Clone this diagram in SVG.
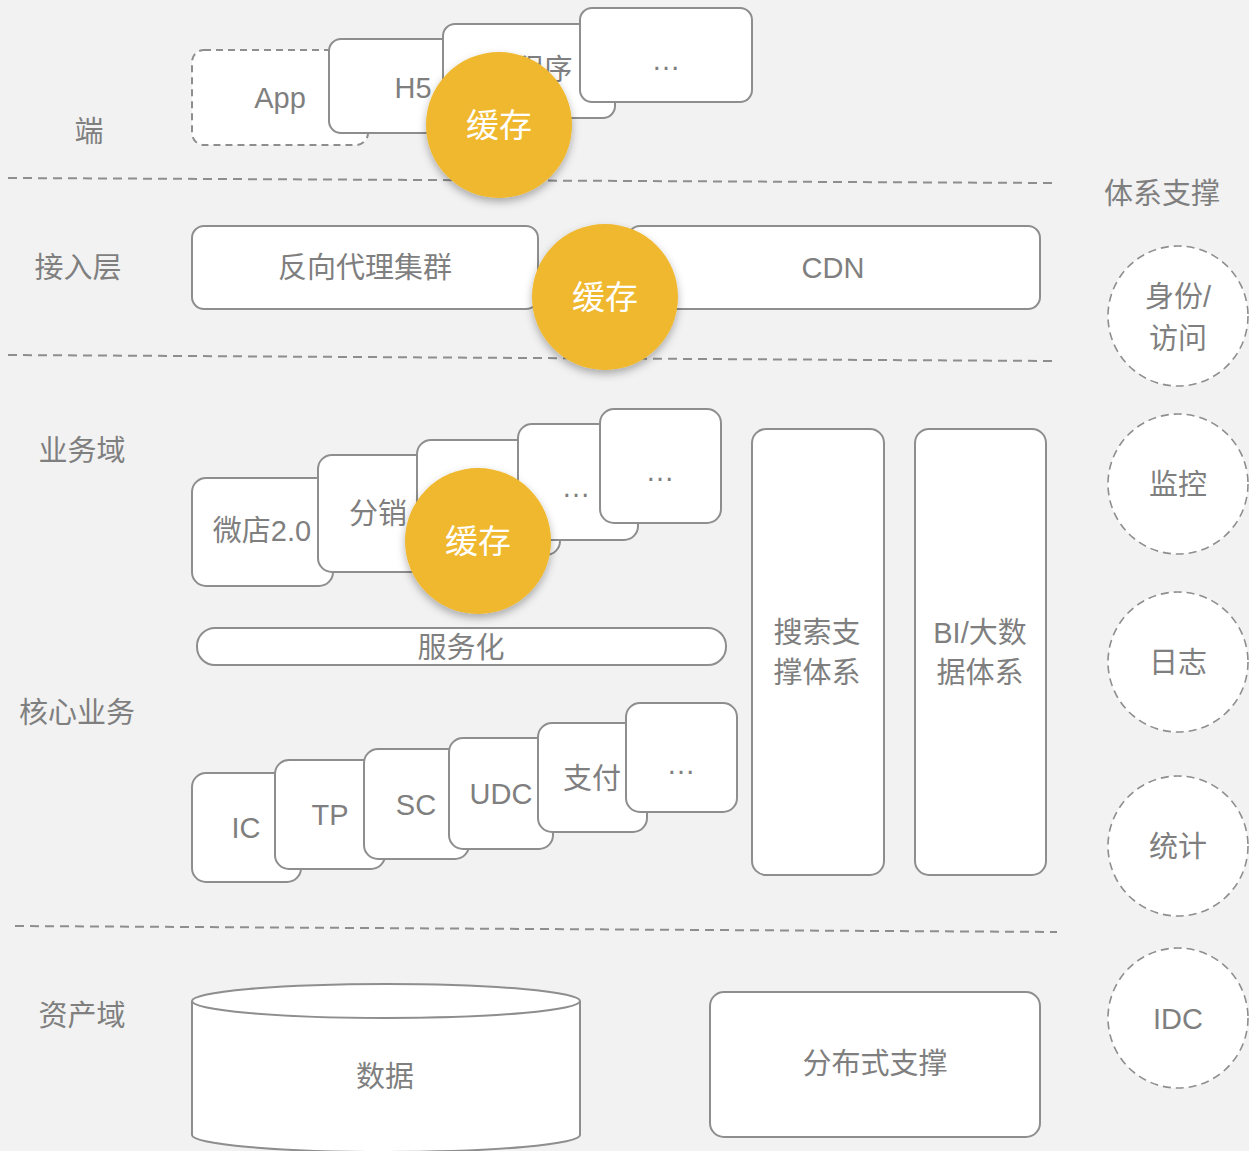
<svg xmlns="http://www.w3.org/2000/svg" width="1249" height="1151" viewBox="0 0 1249 1151">
<defs>
<style>
.bg{fill:#f2f2f2}
.card{fill:#ffffff;stroke:#8e8e8e;stroke-width:2}
.dcard{fill:#ffffff;stroke:#8e8e8e;stroke-width:2;stroke-dasharray:7 5}
.sep{fill:none;stroke:#8e8e8e;stroke-width:2;stroke-dasharray:9 6}
.sup{fill:#ffffff;stroke:#8e8e8e;stroke-width:1.6;stroke-dasharray:8 5}
.t{font-family:"Liberation Sans","Noto Sans CJK SC",sans-serif;fill:#7f7f7f;text-anchor:middle}
.lbl{font-size:29px}
.big{font-size:29px}
.cache{fill:#efb82d;filter:url(#sh)}
.ct{font-family:"Liberation Sans","Noto Sans CJK SC",sans-serif;fill:#ffffff;font-size:33px;text-anchor:middle}
</style>
<filter id="sh" x="-30%" y="-30%" width="160%" height="170%">
<feDropShadow dx="0" dy="4" stdDeviation="4" flood-color="#000" flood-opacity="0.3"/>
</filter>
</defs>
<rect class="bg" x="0" y="0" width="1249" height="1151"/>

<g id="separators">
<line class="sep" x1="8" y1="178" x2="1052" y2="183"/>
<line class="sep" x1="8" y1="355" x2="1052" y2="361"/>
<line class="sep" x1="15" y1="926" x2="1057" y2="932"/>
</g>

<g id="layer-labels">
<text class="t lbl" x="89" y="142">端</text>
<text class="t lbl" x="78" y="278">接入层</text>
<text class="t lbl" x="82" y="461">业务域</text>
<text class="t lbl" x="77" y="723">核心业务</text>
<text class="t lbl" x="82" y="1026">资产域</text>
<text class="t lbl" x="1162" y="204">体系支撑</text>
</g>

<g id="client">
<g id="app"><rect class="dcard" x="192" y="50" width="176" height="95" rx="12"/><text class="t big" x="280" y="108">App</text></g>
<g id="h5"><rect class="card" x="329" y="39" width="150" height="94" rx="12"/><text class="t big" x="413" y="98">H5</text></g>
<g id="miniprogram"><rect class="card" x="443" y="24" width="172" height="94" rx="12"/><text class="t big" x="529" y="80">小程序</text></g>
<g id="client-more"><rect class="card" x="580" y="8" width="172" height="94" rx="12"/><text class="t big" x="666" y="70">…</text></g>
<g id="cache1"><circle class="cache" cx="499" cy="125" r="73"/><text class="ct" x="499" y="137">缓存</text></g>
</g>

<g id="access">
<g id="proxy"><rect class="card" x="192" y="226" width="346" height="83" rx="12"/><text class="t big" x="365" y="278">反向代理集群</text></g>
<g id="cdn"><rect class="card" x="628" y="226" width="412" height="83" rx="12"/><text class="t big" x="833" y="278">CDN</text></g>
<g id="cache2"><circle class="cache" cx="605" cy="297" r="73"/><text class="ct" x="605" y="309">缓存</text></g>
</g>

<g id="business">
<g id="weidian"><rect class="card" x="192" y="478" width="141" height="108" rx="14"/><text class="t big" x="262" y="541">微店2.0</text></g>
<g id="fenxiao"><rect class="card" x="318" y="455" width="142" height="117" rx="14"/><text class="t big" x="378" y="524">分销</text></g>
<g id="biz3"><rect class="card" x="417" y="440" width="143" height="115" rx="14"/></g>
<g id="biz-more1"><rect class="card" x="518" y="424" width="120" height="116" rx="14"/><text class="t big" x="576" y="497">…</text></g>
<g id="biz-more2"><rect class="card" x="600" y="409" width="121" height="114" rx="14"/><text class="t big" x="660" y="481">…</text></g>
<g id="cache3"><circle class="cache" cx="478" cy="541" r="73"/><text class="ct" x="478" y="553">缓存</text></g>
</g>

<g id="servicization"><rect class="card" x="197" y="628" width="529" height="37" rx="18"/><text class="t big" x="461" y="658">服务化</text></g>

<g id="core">
<g id="ic"><rect class="card" x="192" y="773" width="109" height="109" rx="14"/><text class="t big" x="246" y="838">IC</text></g>
<g id="tp"><rect class="card" x="275" y="760" width="110" height="109" rx="14"/><text class="t big" x="330" y="825">TP</text></g>
<g id="sc"><rect class="card" x="364" y="749" width="105" height="110" rx="14"/><text class="t big" x="416" y="815">SC</text></g>
<g id="udc"><rect class="card" x="449" y="738" width="104" height="111" rx="14"/><text class="t big" x="501" y="804">UDC</text></g>
<g id="pay"><rect class="card" x="538" y="723" width="109" height="109" rx="14"/><text class="t big" x="592" y="789">支付</text></g>
<g id="core-more"><rect class="card" x="626" y="703" width="111" height="109" rx="14"/><text class="t big" x="681" y="774">…</text></g>
</g>

<g id="search"><rect class="card" x="752" y="429" width="132" height="446" rx="14"/><text class="t big" x="817" y="643">搜索支</text><text class="t big" x="817" y="683">撑体系</text></g>
<g id="bi"><rect class="card" x="915" y="429" width="131" height="446" rx="14"/><text class="t big" x="980" y="643">BI/大数</text><text class="t big" x="980" y="683">据体系</text></g>

<g id="data">
<path class="card" d="M192,1001 L192,1135 A194,17 0 0 0 580,1135 L580,1001"/>
<ellipse class="card" cx="386" cy="1001" rx="194" ry="17"/>
<text class="t big" x="385" y="1087">数据</text>
</g>
<g id="distributed"><rect class="card" x="710" y="992" width="330" height="145" rx="14"/><text class="t big" x="875" y="1074">分布式支撑</text></g>

<g id="support">
<g id="identity"><circle class="sup" cx="1178" cy="316" r="70"/><text class="t big" x="1178" y="307">身份/</text><text class="t big" x="1178" y="349">访问</text></g>
<g id="monitor"><circle class="sup" cx="1178" cy="484" r="70"/><text class="t big" x="1178" y="495">监控</text></g>
<g id="log"><circle class="sup" cx="1178" cy="662" r="70"/><text class="t big" x="1178" y="673">日志</text></g>
<g id="stats"><circle class="sup" cx="1178" cy="846" r="70"/><text class="t big" x="1178" y="857">统计</text></g>
<g id="idc"><circle class="sup" cx="1178" cy="1018" r="70"/><text class="t big" x="1178" y="1029">IDC</text></g>
</g>
</svg>
